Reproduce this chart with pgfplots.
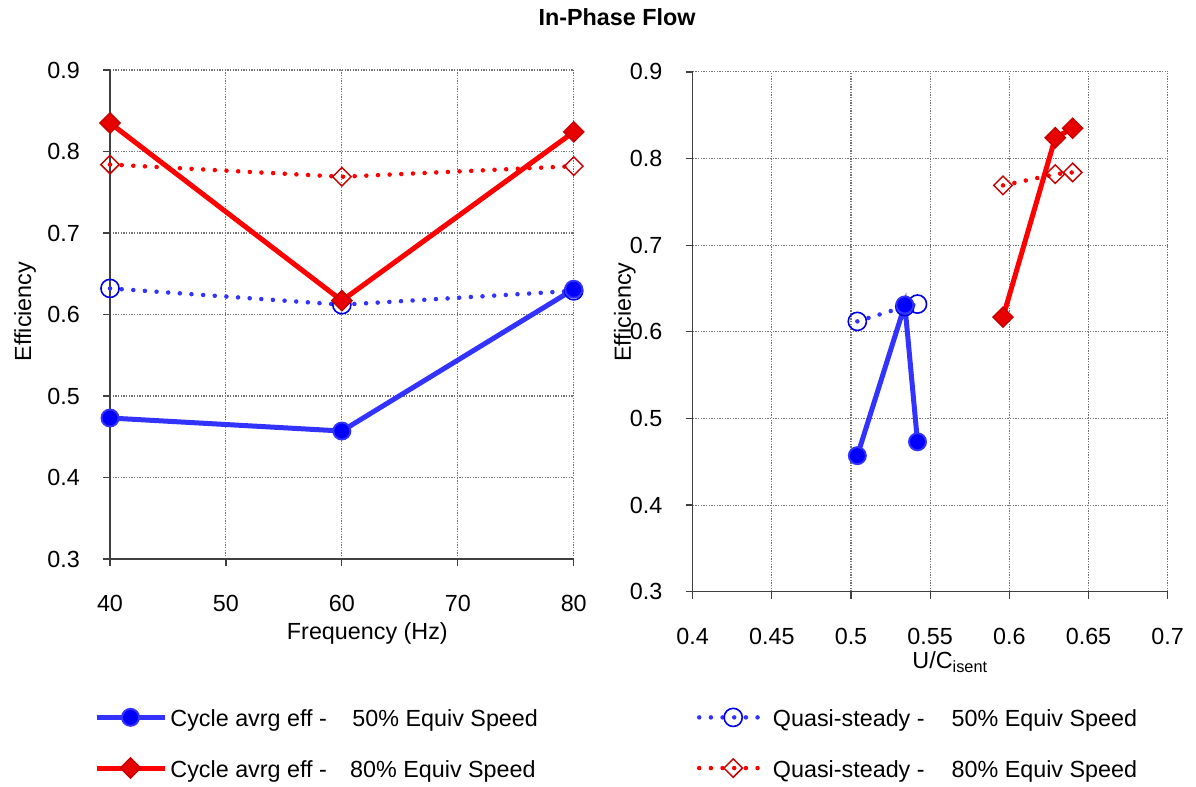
\documentclass[border=0pt]{standalone}
\usepackage{fontspec}
\setmainfont{Liberation Sans}
\usepackage{pgfplots}
\pgfplotsset{compat=1.18}

\definecolor{lineblue}{RGB}{51,51,255}
\definecolor{markblue}{RGB}{0,0,255}
\definecolor{ringblue}{RGB}{0,0,230}
\definecolor{linered}{RGB}{255,0,0}
\definecolor{markred}{RGB}{232,0,0}
\definecolor{edgered}{RGB}{200,0,0}
\definecolor{axisgray}{RGB}{64,64,64}

\pgfplotsset{
  effaxis/.style={
    scale only axis,
    clip=false,
    axis x line*=bottom,
    axis y line*=left,
    axis line style={-, draw=axisgray, line width=1.1pt},
    ymin=0.3, ymax=0.9,
    ytick={0.3,0.4,0.5,0.6,0.7,0.8,0.9},
    grid=major,
    major grid style={draw=gray!90!black, line width=0.8pt, dash pattern=on 0.9pt off 1.1pt},
    tick align=outside,
    major tick length=5.25pt,
    tick style={draw=axisgray, line width=0.9pt},
    /pgf/number format/assume math mode=true,
    xticklabel style={anchor=base, inner sep=0pt, yshift=-34.5pt},
    yticklabel style={anchor=east, inner sep=0pt, xshift=-17.25pt},
    legend cell align=left,
    legend image code/.code={%
      \draw[mark repeat=2, mark phase=2, ##1]
        plot coordinates {(0pt,0pt) (25.5pt,0pt) (51pt,0pt)};},
  },
  effleg/.style={
    legend style={draw=none, fill=none, inner sep=0pt, outer sep=0pt,
      row sep=20.5pt, column sep=2.6pt,
      nodes={inner sep=0pt, text height=15.5pt, text depth=2pt},
      at={#1}, anchor=north west},
  },
  cyc50/.style={lineblue, line width=3.75pt, mark=*, mark size=6.4pt,
    mark options={solid, fill=markblue, draw=lineblue, line width=1.4pt}},
  cyc80/.style={linered, line width=3.75pt, mark=square*, mark size=5.3pt,
    mark options={solid, rotate=45, fill=markred, draw=edgered, line width=1.1pt}},
  qs50/.style={lineblue, line width=3.4pt, line cap=round,
    dash pattern=on 0pt off 8.75pt, mark=o, mark size=6.8pt,
    mark options={solid, draw=ringblue, line width=1.2pt}},
  qs80/.style={linered, line width=3.4pt, line cap=round,
    dash pattern=on 0pt off 8.75pt, mark=square, mark size=4.9pt,
    mark options={solid, rotate=45, draw=edgered, line width=1.1pt}},
}

% efficiency against pulsation frequency
\pgfplotstableread{
f   cyc50 qs50  cyc80 qs80
40  0.473 0.632 0.835 0.784
60  0.457 0.612 0.617 0.769
80  0.631 0.629 0.824 0.782
}\freqdata

% efficiency against velocity ratio, sorted by U/C
\pgfplotstableread{
uc    eff
0.504 0.457
0.534 0.631
0.542 0.473
}\ucCycA
\pgfplotstableread{
uc    eff
0.504 0.612
0.534 0.629
0.542 0.632
}\ucQsA
\pgfplotstableread{
uc    eff
0.596 0.617
0.629 0.824
0.640 0.835
}\ucCycB
\pgfplotstableread{
uc    eff
0.596 0.769
0.629 0.782
0.640 0.784
}\ucQsB

\begin{document}
\begin{tikzpicture}[font=\fontsize{17.5}{21}\selectfont]
\useasboundingbox (0,0) rectangle (897pt,590.25pt);

\node[anchor=base, font=\fontsize{17.5}{21}\selectfont\bfseries]
  at (462.75pt,570.75pt) {In-Phase Flow};

\begin{axis}[effaxis,
  at={(82.5pt,171pt)}, anchor=south west,
  width=347.8pt, height=366.75pt,
  xmin=40, xmax=80, xtick={40,50,60,70,80},
  xlabel={Frequency (Hz)}, ylabel={Efficiency},
  every axis x label/.style={at={(axis description cs:0.555,0)}, anchor=base, yshift=-60.75pt},
  every axis y label/.style={at={(axis description cs:-0.170,0.506)}, rotate=90, anchor=base},
  effleg={(axis description cs:-0.0345,-0.300)},
]
\addplot[qs50, forget plot] table[x=f, y=qs50] {\freqdata};
\addplot[qs80, forget plot] table[x=f, y=qs80] {\freqdata};
\addplot[cyc50] table[x=f, y=cyc50] {\freqdata};
\addlegendentry{\makebox[136.5pt][l]{Cycle avrg eff -}50\% Equiv Speed}
\addplot[cyc80] table[x=f, y=cyc80] {\freqdata};
\addlegendentry{\makebox[134.8pt][l]{Cycle avrg eff -}80\% Equiv Speed}
\end{axis}

\begin{axis}[effaxis,
  at={(519.5pt,146.5pt)}, anchor=south west,
  width=356.25pt, height=389.8pt,
  xmin=0.4, xmax=0.7, xtick={0.4,0.45,0.5,0.55,0.6,0.65,0.7},
  xlabel={U/C\textsubscript{isent}}, ylabel={Efficiency},
  every axis x label/.style={at={(axis description cs:0.542,0)}, anchor=base, yshift=-58pt},
  every axis y label/.style={at={(axis description cs:-0.130,0.538)}, rotate=90, anchor=base},
  effleg={(axis description cs:0.009,-0.2195)},
]
\addplot[qs50] table[x=uc, y=eff] {\ucQsA};
\addlegendentry{\makebox[134pt][l]{Quasi-steady -}50\% Equiv Speed}
\addplot[qs80] table[x=uc, y=eff] {\ucQsB};
\addlegendentry{\makebox[134pt][l]{Quasi-steady -}80\% Equiv Speed}
\addplot[cyc50, forget plot] table[x=uc, y=eff] {\ucCycA};
\addplot[cyc80, forget plot] table[x=uc, y=eff] {\ucCycB};
\end{axis}
\end{tikzpicture}
\end{document}
